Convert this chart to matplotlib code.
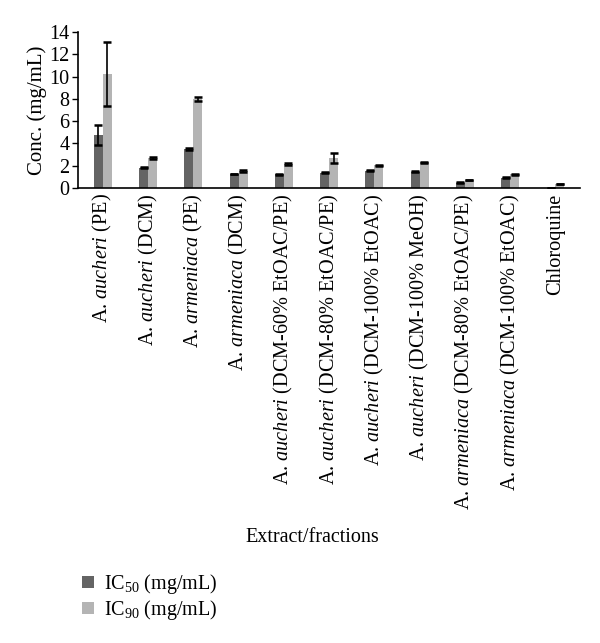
import numpy as np
import matplotlib.pyplot as plt

plt.rcParams['font.family'] = 'Liberation Serif'
plt.rcParams['mathtext.fontset'] = 'custom'
plt.rcParams['mathtext.rm'] = 'Liberation Serif'
plt.rcParams['mathtext.it'] = 'Liberation Serif:italic'

# data
labels = [
    r"A. $\mathit{aucheri}$ (PE)",
    r"A. $\mathit{aucheri}$ (DCM)",
    r"A. $\mathit{armeniaca}$ (PE)",
    r"A. $\mathit{armeniaca}$ (DCM)",
    r"A. $\mathit{aucheri}$ (DCM-60% EtOAC/PE)",
    r"A. $\mathit{aucheri}$ (DCM-80% EtOAC/PE)",
    r"A. $\mathit{aucheri}$ (DCM-100% EtOAC)",
    r"A. $\mathit{aucheri}$ (DCM-100% MeOH)",
    r"A. $\mathit{armeniaca}$ (DCM-80% EtOAC/PE)",
    r"A. $\mathit{armeniaca}$ (DCM-100% EtOAC)",
    "Chloroquine",
]
ic50 = [4.76, 1.82, 3.5, 1.26, 1.24, 1.38, 1.55, 1.47, 0.48, 0.93, 0.0]
ic50_err = [0.9, 0.05, 0.1, 0.04, 0.04, 0.05, 0.05, 0.05, 0.04, 0.05, 0.0]
ic90 = [10.23, 2.66, 7.99, 1.53, 2.15, 2.66, 2.03, 2.3, 0.72, 1.23, 0.36]
ic90_err = [2.9, 0.1, 0.15, 0.05, 0.07, 0.45, 0.05, 0.05, 0.04, 0.05, 0.04]

fig = plt.figure(figsize=(6, 6.43), dpi=100)
ax = fig.add_axes([0.13, 0.7076, 0.837, 0.2427])

x = np.arange(len(labels))
w = 0.2
ax.bar(x - w/2, ic50, w, color='#646464', label=r'IC$_{50}$ (mg/mL)',
       yerr=ic50_err, capsize=3, error_kw=dict(ecolor='black', elinewidth=1.2, capthick=1.8))
ax.bar(x + w/2, ic90, w, color='#b4b4b4', label=r'IC$_{90}$ (mg/mL)',
       yerr=ic90_err, capsize=3, error_kw=dict(ecolor='black', elinewidth=1.2, capthick=1.8))

ax.set_xlim(-0.55, len(labels) - 0.45)
ax.set_ylim(0, 14)
ax.set_yticks(range(0, 15, 2))
ax.set_xticks(x)
ax.set_xticklabels(labels, rotation=90, fontsize=14.6)
ax.tick_params(axis='x', length=0, pad=4)
ax.tick_params(axis='y', labelsize=14.5, length=4, width=1, pad=2)
ax.spines['top'].set_visible(False)
ax.spines['right'].set_visible(False)
ax.spines['left'].set_linewidth(1.2)
ax.spines['bottom'].set_linewidth(1.2)
ax.set_ylabel('Conc. (mg/mL)', fontsize=15, labelpad=2)

fig.text(312/600, 1 - 537/643, 'Extract/fractions', fontsize=14.5, ha='center', va='center')

fig.legend(loc='upper left', bbox_to_anchor=(0.113, 1 - 558/643), frameon=False,
           fontsize=14.5, handlelength=0.6, handleheight=0.6, handletextpad=0.5,
           labelspacing=0.1, borderpad=0.2)

fig.savefig('out.png', dpi=100)
